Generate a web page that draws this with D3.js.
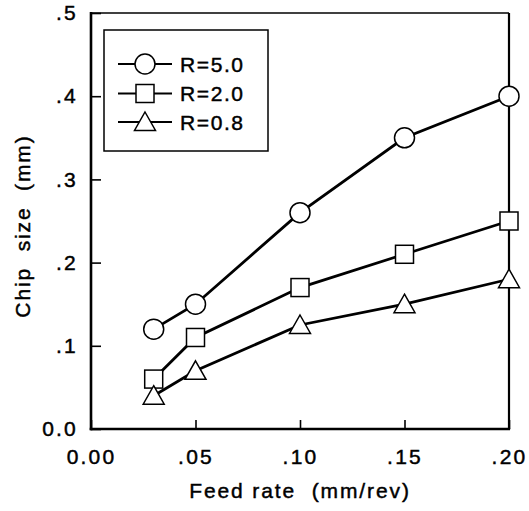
<!DOCTYPE html>
<html>
<head>
<meta charset="utf-8">
<script src="https://cdn.jsdelivr.net/npm/d3@7/dist/d3.min.js"></script>
<style>
  html, body { margin: 0; padding: 0; background: #fff; }
  svg text { font-family: "Liberation Sans", Arial, Helvetica, sans-serif; fill: #000; stroke: #000; stroke-width: 0.45px; }
</style>
</head>
<body>
<svg id="chart" width="529" height="511"></svg>
<script>
// ---- data ----
const feedRates = [0.03, 0.05, 0.10, 0.15, 0.20];
const seriesNames = ["R=5.0", "R=2.0", "R=0.8"];
const seriesSymbols = ["circle", "square", "triangle"];
const r50 = [0.12, 0.15, 0.26, 0.35, 0.40];
const r20 = [0.06, 0.11, 0.17, 0.21, 0.25];
const r08 = [0.04, 0.07, 0.125, 0.15, 0.18];
const xTickValues = [0, 0.05, 0.10, 0.15, 0.20];
const xTickLabels = ["0.00", ".05", ".10", ".15", ".20"];
const yTickValues = [0, 0.1, 0.2, 0.3, 0.4, 0.5];
const yTickLabels = ["0.0", ".1", ".2", ".3", ".4", ".5"];
const xTitle = "Feed rate  (mm/rev)";
const yTitle = "Chip  size  (mm)";

const seriesValues = [r50, r20, r08];

// ---- layout ----
const svg = d3.select("#chart");
const L = 91, R = 509, T = 13, B = 429;
const x = d3.scaleLinear().domain([0, 0.20]).range([L, R]);
const y = d3.scaleLinear().domain([0, 0.5]).range([B, T]);

// axes (ticks inward)
const xAxis = d3.axisBottom(x).tickValues(xTickValues)
  .tickFormat((d, i) => xTickLabels[i]).tickSize(-9).tickPadding(20);
const yAxis = d3.axisLeft(y).tickValues(yTickValues)
  .tickFormat((d, i) => yTickLabels[i]).tickSize(-10).tickPadding(13);

const gx = svg.append("g").attr("transform", `translate(0,${B})`).call(xAxis);
const gy = svg.append("g").attr("transform", `translate(${L},0)`).call(yAxis);
[gx, gy].forEach(g => {
  g.select(".domain").remove();
  g.selectAll(".tick line").attr("stroke", "#000").attr("stroke-width", 1.6);
  g.selectAll(".tick text").attr("font-size", 21).attr("letter-spacing", "2.2px")
    .attr("font-family", "Liberation Sans, Arial, sans-serif").attr("fill", "#000");
});

// frame
svg.append("line").attr("x1", L).attr("x2", R).attr("y1", T).attr("y2", T)
  .attr("stroke", "#000").attr("stroke-width", 1.6);
svg.append("line").attr("x1", R).attr("x2", R).attr("y1", T).attr("y2", B)
  .attr("stroke", "#000").attr("stroke-width", 2.2);
svg.append("line").attr("x1", L).attr("x2", L).attr("y1", T - 1).attr("y2", B + 1.2)
  .attr("stroke", "#000").attr("stroke-width", 2.6);
svg.append("line").attr("x1", L - 1.3).attr("x2", R + 1.1).attr("y1", B).attr("y2", B)
  .attr("stroke", "#000").attr("stroke-width", 2.6);

// titles
svg.append("text").attr("x", (L + R) / 2).attr("y", 498).attr("text-anchor", "middle")
  .attr("font-size", 21).attr("letter-spacing", "1.9px").style("white-space", "pre")
  .text(xTitle);
svg.append("text").attr("transform", `translate(30,${(T + B) / 2 + 5}) rotate(-90)`)
  .attr("text-anchor", "middle").attr("font-size", 21).attr("letter-spacing", "1.9px")
  .style("white-space", "pre").text(yTitle);

// symbols
function drawSymbol(g, type, cx, cy) {
  const s = g.append("g").attr("transform", `translate(${cx},${cy})`);
  if (type === "circle") {
    s.append("circle").attr("r", 10);
  } else if (type === "square") {
    s.append("rect").attr("x", -9).attr("y", -9).attr("width", 18).attr("height", 18);
  } else {
    s.append("path").attr("d", "M0,-10 L10.5,8.5 L-10.5,8.5 Z");
  }
  s.selectAll("*").attr("fill", "#fff").attr("stroke", "#000").attr("stroke-width", 1.5);
}

const line = d3.line().x(d => x(d[0])).y(d => y(d[1]));
seriesValues.forEach((vals, si) => {
  const pts = feedRates.map((f, i) => [f, vals[i]]);
  svg.append("path").datum(pts).attr("d", line)
    .attr("fill", "none").attr("stroke", "#000").attr("stroke-width", 2.8);
});
seriesValues.forEach((vals, si) => {
  const g = svg.append("g");
  feedRates.forEach((f, i) => drawSymbol(g, seriesSymbols[si], x(f), y(vals[i])));
});

// legend
const lg = svg.append("g");
lg.append("rect").attr("x", 104).attr("y", 30).attr("width", 164).attr("height", 121)
  .attr("fill", "#fff").attr("stroke", "#000").attr("stroke-width", 1.5);
const rowY = [64, 93.5, 122];
seriesNames.forEach((name, i) => {
  lg.append("line").attr("x1", 118).attr("x2", 172).attr("y1", rowY[i]).attr("y2", rowY[i])
    .attr("stroke", "#000").attr("stroke-width", 1.8);
  drawSymbol(lg, seriesSymbols[i], 145, rowY[i]);
  lg.append("text").attr("x", 180).attr("y", rowY[i] + 7.5).attr("font-size", 21)
    .attr("letter-spacing", "1.6px").text(name);
});
</script>
</body>
</html>
